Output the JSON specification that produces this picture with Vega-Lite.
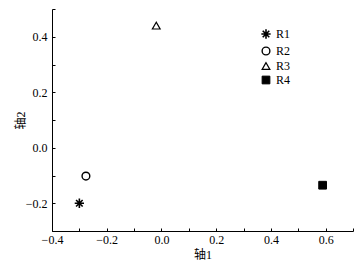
{
  "$schema": "https://vega.github.io/schema/vega-lite/v6.json",
  "autosize": "none",
  "width": 301,
  "height": 222,
  "padding": {"left": 52, "top": 9, "right": 5, "bottom": 34},
  "background": "white",
  "config": {
    "view": {"stroke": null},
    "font": "Liberation Serif",
    "axis": {
      "grid": false,
      "domainColor": "black",
      "tickColor": "black",
      "labelColor": "black",
      "titleColor": "black",
      "labelFont": "Liberation Serif",
      "labelFontSize": 12,
      "titleFont": "Liberation Serif, Noto Sans CJK SC",
      "titleFontSize": 12,
      "titleFontWeight": "normal",
      "tickSize": -3,
      "domainWidth": 1,
      "tickWidth": 1,
      "labelFlush": false
    },
    "legend": {
      "labelFont": "Liberation Serif",
      "labelFontSize": 12,
      "labelColor": "black"
    }
  },
  "data": {
    "values": [
      {"series": "R1", "x": -0.30, "y": -0.20},
      {"series": "R2", "x": -0.276, "y": -0.102},
      {"series": "R3", "x": -0.019, "y": 0.44},
      {"series": "R4", "x": 0.589, "y": -0.135}
    ]
  },
  "mark": {"type": "point", "opacity": 1},
  "encoding": {
    "x": {
      "field": "x", "type": "quantitative",
      "scale": {"domain": [-0.4, 0.7], "nice": false, "zero": false},
      "axis": {
        "title": "轴1",
        "values": [-0.4, -0.3, -0.2, -0.1, 0, 0.1, 0.2, 0.3, 0.4, 0.5, 0.6, 0.7],
        "labelExpr": "abs(round(datum.value*10)) % 2 == 0 ? datum.label : ''",
        "labelPadding": 6,
        "titlePadding": 4
      }
    },
    "y": {
      "field": "y", "type": "quantitative",
      "scale": {"domain": [-0.3, 0.5], "nice": false, "zero": false},
      "axis": {
        "title": "轴2",
        "values": [-0.3, -0.2, -0.1, 0, 0.1, 0.2, 0.3, 0.4, 0.5],
        "labelExpr": "abs(round(datum.value*10)) % 2 == 0 ? datum.label : ''",
        "labelPadding": 8,
        "titlePadding": -2
      }
    },
    "shape": {
      "field": "series", "type": "nominal",
      "scale": {
        "domain": ["R1", "R2", "R3", "R4"],
        "range": [
          "M-1.2,0L1.2,0M0,-1.2L0,1.2M-0.85,-0.85L0.85,0.85M-0.85,0.85L0.85,-0.85",
          "circle",
          "triangle-up",
          "square"
        ]
      },
      "legend": {
        "title": null,
        "orient": "none",
        "legendX": 208,
        "legendY": 19,
        "symbolSize": 60,
        "symbolStrokeWidth": 1,
        "rowPadding": 2,
        "labelOffset": 4,
        "padding": 0
      }
    },
    "fill": {
      "field": "series", "type": "nominal",
      "scale": {"domain": ["R1", "R2", "R3", "R4"], "range": ["transparent", "transparent", "transparent", "black"]},
      "legend": null
    },
    "stroke": {
      "field": "series", "type": "nominal",
      "scale": {"domain": ["R1", "R2", "R3", "R4"], "range": ["black", "black", "black", "black"]},
      "legend": null
    },
    "strokeWidth": {
      "field": "series", "type": "nominal",
      "scale": {"domain": ["R1", "R2", "R3", "R4"], "range": [1.6, 1, 1, 1]},
      "legend": null
    },
    "size": {"value": 60}
  }
}
